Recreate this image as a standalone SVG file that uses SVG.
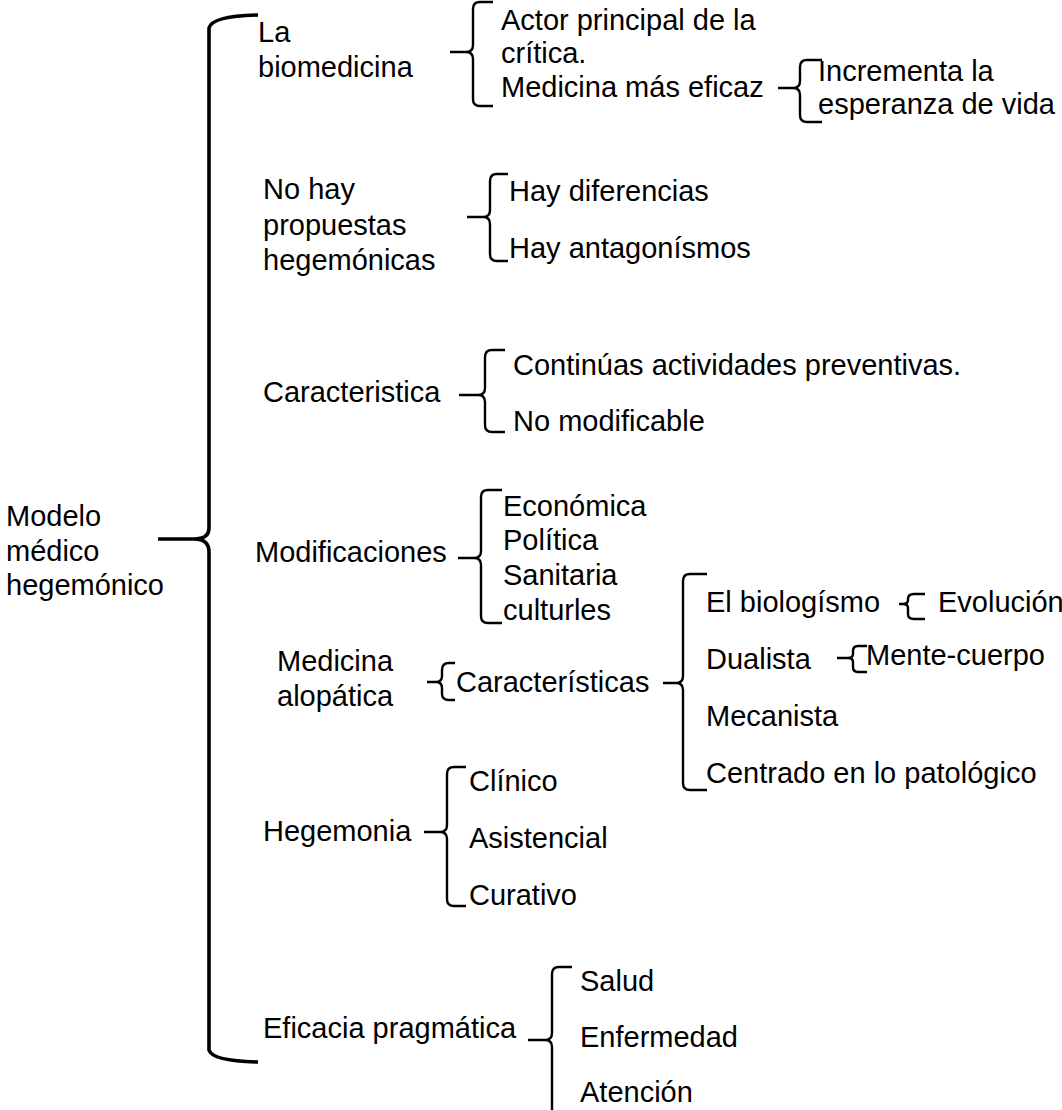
<svg xmlns="http://www.w3.org/2000/svg" width="1062" height="1110" viewBox="0 0 1062 1110">
<style>
text{font-family:"Liberation Sans",Arial,sans-serif;font-size:29px;fill:#000}
.b{fill:none;stroke:#000;stroke-width:2.4;stroke-linejoin:round}
.big{fill:none;stroke:#000;stroke-width:3.6}
</style>
<rect width="1062" height="1110" fill="#fff"/>
<g id="connectors">
<path class="big" d="M258,15 Q212,16 209,28 L209,528 Q209,539 194,539 L158,539 M194,539 Q209,539 209,552 L209,1050 Q212,1061 258,1062"/>
<path class="b" d="M493,2 L480,2 Q473,2 473,9 L473,45 Q473,52 466,52 L450,52 M466,52 Q473,52 473,59 L473,99 Q473,106 480,106 L493,106"/>
<path class="b" d="M822,60 L807,60 Q800,60 800,67 L800,81 Q800,88 793,88 L778,88 M793,88 Q800,88 800,95 L800,115 Q800,122 807,122 L822,122"/>
<path class="b" d="M508,174 L497,174 Q490,174 490,181 L490,210 Q490,217 483,217 L467,217 M483,217 Q490,217 490,224 L490,254 Q490,261 497,261 L508,261"/>
<path class="b" d="M505,350 L492,350 Q485,350 485,357 L485,388 Q485,395 478,395 L459,395 M478,395 Q485,395 485,402 L485,425 Q485,432 492,432 L505,432"/>
<path class="b" d="M502,490 L488,490 Q481,490 481,497 L481,551 Q481,558 474,558 L458,558 M474,558 Q481,558 481,565 L481,616 Q481,623 488,623 L502,623"/>
<path class="b" d="M455,663 L449,663 Q442,663 442,670 L442,676 Q442,682 436,682 L427,682 M436,682 Q442,682 442,688 L442,694 Q442,700 449,700 L455,700"/>
<path class="b" d="M707,574 L690,574 Q683,574 683,581 L683,676 Q683,683 676,683 L663,683 M676,683 Q683,683 683,690 L683,783 Q683,790 690,790 L707,790"/>
<path class="b" d="M925,594 L914,594 Q908,594 908,599 L908,600 Q908,604 903,604 L899,604 M903,604 Q908,604 908,608 L908,614 Q908,619 914,619 L925,619"/>
<path class="b" d="M867,646 L858,646 Q853,646 853,651 L853,654 Q853,658 848,658 L837,658 M848,658 Q853,658 853,662 L853,667 Q853,672 858,672 L867,672"/>
<path class="b" d="M466,767 L454,767 Q447,767 447,774 L447,825 Q447,832 440,832 L424,832 M440,832 Q447,832 447,839 L447,899 Q447,906 454,906 L466,906"/>
<path class="b" d="M572,967 L559,967 Q552,967 552,974 L552,1033 Q552,1040 545,1040 L528,1040 M545,1040 Q552,1040 552,1047 L552,1115"/>
</g>
<g id="n-modelo"><text x="6" y="526">Modelo</text><text x="6" y="561">médico</text><text x="6" y="595">hegemónico</text></g>
<g id="n-biomedicina"><text x="258" y="42">La</text><text x="258" y="77">biomedicina</text></g>
<g id="n-actor"><text x="501" y="30">Actor principal de la</text><text x="501" y="63">crítica.</text></g>
<g id="n-medicina-eficaz"><text x="501" y="97">Medicina más eficaz</text></g>
<g id="n-incrementa"><text x="818" y="81">Incrementa la</text><text x="818" y="114">esperanza de vida</text></g>
<g id="n-nohay"><text x="263" y="199">No hay</text><text x="263" y="235">propuestas</text><text x="263" y="270">hegemónicas</text></g>
<g id="n-diferencias"><text x="509" y="201">Hay diferencias</text></g>
<g id="n-antagonismos"><text x="509" y="258">Hay antagonísmos</text></g>
<g id="n-caracteristica"><text x="263" y="402">Caracteristica</text></g>
<g id="n-continuas"><text x="513" y="375">Continúas actividades preventivas.</text></g>
<g id="n-nomodificable"><text x="513" y="431">No modificable</text></g>
<g id="n-modificaciones"><text x="255" y="562">Modificaciones</text></g>
<g id="n-tipos"><text x="503" y="516">Económica</text><text x="503" y="550">Política</text><text x="503" y="585">Sanitaria</text><text x="503" y="620">culturles</text></g>
<g id="n-alopatica"><text x="277" y="671">Medicina</text><text x="277" y="706">alopática</text></g>
<g id="n-caracteristicas"><text x="456" y="692">Características</text></g>
<g id="n-biologismo"><text x="706" y="612">El biologísmo</text></g>
<g id="n-evolucion"><text x="938" y="612">Evolución</text></g>
<g id="n-dualista"><text x="706" y="669">Dualista</text></g>
<g id="n-mente"><text x="866" y="665">Mente-cuerpo</text></g>
<g id="n-mecanista"><text x="706" y="726">Mecanista</text></g>
<g id="n-centrado"><text x="706" y="783">Centrado en lo patológico</text></g>
<g id="n-hegemonia"><text x="263" y="841">Hegemonia</text></g>
<g id="n-clinico"><text x="469" y="791">Clínico</text></g>
<g id="n-asistencial"><text x="469" y="848">Asistencial</text></g>
<g id="n-curativo"><text x="469" y="905">Curativo</text></g>
<g id="n-eficacia"><text x="263" y="1038">Eficacia pragmática</text></g>
<g id="n-salud"><text x="580" y="991">Salud</text></g>
<g id="n-enfermedad"><text x="580" y="1047">Enfermedad</text></g>
<g id="n-atencion"><text x="580" y="1102">Atención</text></g>
</svg>
